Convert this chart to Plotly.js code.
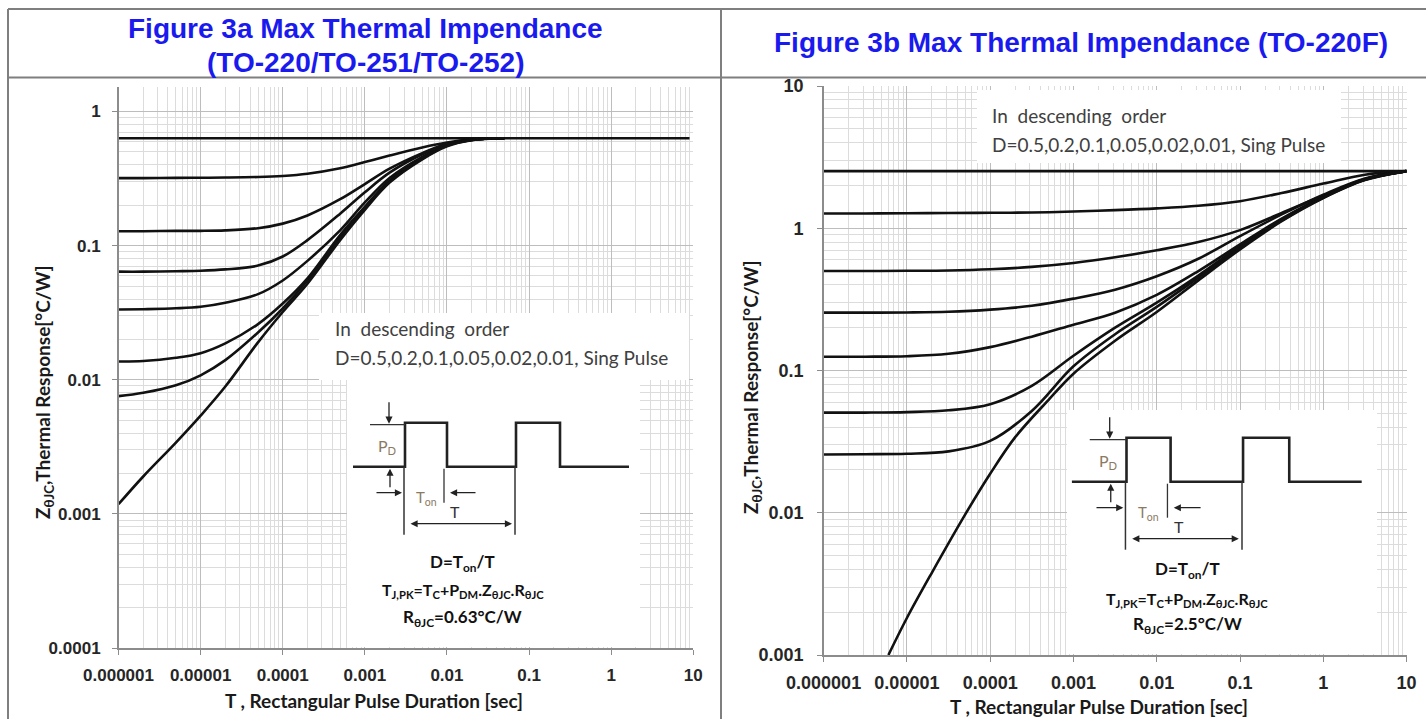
<!DOCTYPE html>
<html><head><meta charset="utf-8">
<script src="https://cdn.plot.ly/plotly-3.0.1.min.js"></script>
<style>html,body{margin:0;padding:0;background:#fff;} #chart{width:1426px;height:719px;}</style>
</head><body><div id="chart"></div>
<script>
// ---------- tick labels ----------
const xTickVals = [1e-6, 1e-5, 1e-4, 1e-3, 1e-2, 1e-1, 1, 10];
const xTickText = ['0.000001', '0.00001', '0.0001', '0.001', '0.01', '0.1', '1', '10'];
const yTickValsA = [1e-4, 1e-3, 1e-2, 1e-1, 1];
const yTickTextA = ['0.0001', '0.001', '0.01', '0.1', '1'];
const yTickValsB = [1e-3, 1e-2, 1e-1, 1, 10];
const yTickTextB = ['0.001', '0.01', '0.1', '1', '10'];

// ---------- Figure 3a (TO-220/TO-251/TO-252), R = 0.63 C/W ----------
const steadyTimeA = [1e-6, 9];
const steadyA = [0.632, 0.632];
const timeA = [1e-6, 2e-6, 5e-6, 1e-5, 2e-5, 5e-5, 1e-4, 2e-4, 5e-4, 1e-3, 2e-3, 5e-3, 1e-2, 2e-2, 5e-2];
const zA_D05  = [0.319, 0.319, 0.32, 0.321, 0.322, 0.325, 0.331, 0.344, 0.378, 0.42, 0.47, 0.54, 0.588, 0.62, 0.632];
const zA_D02  = [0.128, 0.128, 0.129, 0.129, 0.130, 0.135, 0.146, 0.168, 0.222, 0.288, 0.375, 0.49, 0.575, 0.618, 0.632];
const zA_D01  = [0.064, 0.064, 0.0645, 0.065, 0.0665, 0.071, 0.083, 0.11, 0.173, 0.25, 0.35, 0.48, 0.57, 0.616, 0.632];
const zA_D005 = [0.0334, 0.0336, 0.0341, 0.035, 0.0375, 0.0435, 0.055, 0.077, 0.13, 0.21, 0.32, 0.46, 0.565, 0.615, 0.632];
const zA_D002 = [0.0137, 0.0138, 0.0146, 0.0158, 0.0187, 0.026, 0.037, 0.057, 0.12, 0.195, 0.305, 0.45, 0.56, 0.614, 0.632];
const zA_D001 = [0.00755, 0.008, 0.0091, 0.0108, 0.014, 0.0225, 0.034, 0.055, 0.115, 0.19, 0.30, 0.445, 0.555, 0.613, 0.632];
const zA_single = [0.00118, 0.0019, 0.0034, 0.0054, 0.0089, 0.019, 0.032, 0.052, 0.11, 0.185, 0.295, 0.44, 0.55, 0.611, 0.632];

// ---------- Figure 3b (TO-220F), R = 2.5 C/W ----------
const steadyTimeB = [1e-6, 10];
const steadyB = [2.52, 2.52];
const timeB = [1e-6, 3.16e-6, 1e-5, 3.16e-5, 1e-4, 3.16e-4, 1e-3, 3.16e-3, 1e-2, 3.16e-2, 0.1, 0.316, 1, 3.16, 10];
const zB_D05  = [1.27, 1.27, 1.275, 1.28, 1.285, 1.29, 1.31, 1.34, 1.38, 1.44, 1.55, 1.77, 2.06, 2.38, 2.52];
const zB_D02  = [0.50, 0.50, 0.502, 0.505, 0.515, 0.535, 0.57, 0.625, 0.70, 0.80, 0.97, 1.28, 1.70, 2.22, 2.52];
const zB_D01  = [0.255, 0.255, 0.256, 0.259, 0.268, 0.285, 0.32, 0.37, 0.46, 0.61, 0.88, 1.25, 1.72, 2.24, 2.52];
const zB_D005 = [0.125, 0.125, 0.126, 0.131, 0.146, 0.173, 0.21, 0.255, 0.34, 0.50, 0.77, 1.17, 1.67, 2.21, 2.52];
const zB_D002 = [0.0506, 0.0506, 0.051, 0.0525, 0.058, 0.078, 0.127, 0.20, 0.30, 0.465, 0.75, 1.15, 1.65, 2.2, 2.52];
const zB_D001 = [0.0257, 0.0258, 0.026, 0.027, 0.032, 0.052, 0.107, 0.18, 0.28, 0.45, 0.73, 1.13, 1.64, 2.19, 2.52];
const singleTimeB = [6e-6, 1e-5, 2e-5, 5e-5, 1e-4, 2e-4, 5e-4, 1e-3, 3.16e-3, 1e-2, 3.16e-2, 0.1, 0.316, 1, 3.16, 10];
const zB_single = [0.001, 0.00182, 0.0038, 0.0097, 0.0188, 0.034, 0.062, 0.095, 0.162, 0.258, 0.43, 0.71, 1.12, 1.63, 2.18, 2.52];

// ---------- helpers ----------
const W = 1426, H = 719;
const px = v => v / W;
const py = v => 1 - v / H;
const ARIAL = 'Liberation Sans, Arial, sans-serif';
const CALIB = 'Lato, Carlito, Calibri, sans-serif';

function curve(x, y, xa, ya) {
  return { x: x, y: y, xaxis: xa, yaxis: ya, type: 'scatter', mode: 'lines',
    line: { color: '#111', width: 2.6, shape: 'spline', smoothing: 1.0 },
    hoverinfo: 'skip', showlegend: false };
}

const traces = [
  curve(steadyTimeA, steadyA, 'x', 'y'),
  curve(timeA, zA_D05, 'x', 'y'),
  curve(timeA, zA_D02, 'x', 'y'),
  curve(timeA, zA_D01, 'x', 'y'),
  curve(timeA, zA_D005, 'x', 'y'),
  curve(timeA, zA_D002, 'x', 'y'),
  curve(timeA, zA_D001, 'x', 'y'),
  curve(timeA, zA_single, 'x', 'y'),
  curve(steadyTimeB, steadyB, 'x2', 'y2'),
  curve(timeB, zB_D05, 'x2', 'y2'),
  curve(timeB, zB_D02, 'x2', 'y2'),
  curve(timeB, zB_D01, 'x2', 'y2'),
  curve(timeB, zB_D005, 'x2', 'y2'),
  curve(timeB, zB_D002, 'x2', 'y2'),
  curve(timeB, zB_D001, 'x2', 'y2'),
  curve(singleTimeB, zB_single, 'x2', 'y2')
];

function logAxis(domain, anchor, range, vals, text, size, standoff) {
  return {
    type: 'log', domain: domain, anchor: anchor, range: range,
    tickmode: 'array', tickvals: vals, ticktext: text,
    tickfont: { family: ARIAL, size: size, color: '#262626', weight: 'bold' },
    ticks: 'outside', ticklen: 5, tickcolor: '#8c8c8c', tickwidth: 1,
    ticklabelstandoff: standoff,
    showgrid: true, gridcolor: '#bdbdbd', gridwidth: 1,
    minor: { dtick: 'D1', showgrid: true, gridcolor: '#dcdcdc', gridwidth: 1, ticks: '' },
    showline: true, linecolor: '#8c8c8c', linewidth: 1.5,
    zeroline: false, fixedrange: true
  };
}

const shapes = [];
const annotations = [];

function hline(y, x0, x1, color, w) {
  shapes.push({ type: 'line', xref: 'paper', yref: 'paper', x0: px(x0), x1: px(x1), y0: py(y), y1: py(y),
    line: { color: color, width: w }, layer: 'above' });
}
function vline(x, y0, y1, color, w) {
  shapes.push({ type: 'line', xref: 'paper', yref: 'paper', x0: px(x), x1: px(x), y0: py(y0), y1: py(y1),
    line: { color: color, width: w }, layer: 'above' });
}
function box(x0, y0, x1, y1) {
  shapes.push({ type: 'rect', xref: 'paper', yref: 'paper', x0: px(x0), x1: px(x1), y0: py(y1), y1: py(y0),
    fillcolor: '#ffffff', line: { width: 0 }, layer: 'above' });
}
function text(t, x, y, size, color, family, weight, anchor) {
  annotations.push({ text: t, xref: 'paper', yref: 'paper', x: px(x), y: py(y), showarrow: false,
    xanchor: anchor || 'center', yanchor: 'middle',
    font: { size: size, color: color, family: family, weight: weight || 'normal' } });
}
function arrow(hx, hy, tx, ty, both) {
  annotations.push({ text: '', xref: 'paper', yref: 'paper', x: px(hx), y: py(hy),
    ax: tx - hx, ay: ty - hy, showarrow: true, arrowhead: 2, arrowsize: 1.1, arrowwidth: 1.3,
    arrowcolor: '#222', arrowside: both ? 'end+start' : 'end', startarrowhead: 2, startarrowsize: 1.1 });
}

// frame
hline(9, 8, W, '#7f7f7f', 2);
hline(77.5, 8, W, '#7f7f7f', 2);
vline(8, 9, H, '#7f7f7f', 2);
vline(721, 9, H, '#7f7f7f', 2);

// titles
const BLUE = '#1a1aef';
text('Figure 3a Max Thermal Impendance', 365, 29, 28, BLUE, ARIAL, 'bold');
text('(TO-220/TO-251/TO-252)', 365, 62, 28, BLUE, ARIAL, 'bold');
text('Figure 3b Max Thermal Impendance (TO-220F)', 1081, 43, 28, BLUE, ARIAL, 'bold');

// axis titles
const yTitle = 'Z<sub>θJC</sub>,Thermal Response[°C/W]';
const xTitle = 'T , Rectangular Pulse Duration [sec]';
annotations.push({ text: yTitle, xref: 'paper', yref: 'paper', x: px(44), y: py(392), textangle: -90,
  showarrow: false, xanchor: 'center', yanchor: 'middle', font: { family: CALIB, size: 19, color: '#1a1a1a', weight: 'bold' } });
annotations.push({ text: yTitle, xref: 'paper', yref: 'paper', x: px(752), y: py(387), textangle: -90,
  showarrow: false, xanchor: 'center', yanchor: 'middle', font: { family: CALIB, size: 19, color: '#1a1a1a', weight: 'bold' } });
text(xTitle, 374, 700, 19, '#1a1a1a', CALIB, 'bold');
text(xTitle, 1099, 706, 19, '#1a1a1a', CALIB, 'bold');

// note boxes
box(319, 313, 689, 380);
text('In  descending  order', 333, 329, 19, '#404040', CALIB, 'normal', 'left');
text('D=0.5,0.2,0.1,0.05,0.02,0.01, Sing Pulse', 333, 357, 19, '#404040', CALIB, 'normal', 'left');
box(977, 90, 1341, 163);
text('In  descending  order', 990, 116, 19, '#404040', CALIB, 'normal', 'left');
text('D=0.5,0.2,0.1,0.05,0.02,0.01, Sing Pulse', 990, 144, 19, '#404040', CALIB, 'normal', 'left');

// pulse diagram
function diagram(bx0, by0, bx1, by1, rx, by, s, ty, rText) {
  box(bx0, by0, bx1, by1);
  const X = d => rx + d * s;
  const top = by - 44;
  const pts = [[X(-52), by], [X(0), by], [X(0), top], [X(42), top], [X(42), by], [X(111), by],
               [X(111), top], [X(155), top], [X(155), by], [X(224), by]];
  const p = 'M' + pts.map(q => px(q[0]) + ',' + py(q[1])).join(' L');
  shapes.push({ type: 'path', xref: 'paper', yref: 'paper', path: p, line: { color: '#222', width: 2.6 }, layer: 'above' });
  shapes.push({ type: 'line', xref: 'paper', yref: 'paper', x0: px(X(-35)), x1: px(X(0)), y0: py(top + 2), y1: py(top + 2),
    line: { color: '#333', width: 1.3 }, layer: 'above' });
  shapes.push({ type: 'line', xref: 'paper', yref: 'paper', x0: px(X(-1)), x1: px(X(-1)), y0: py(by), y1: py(by + 68),
    line: { color: '#333', width: 1.5 }, layer: 'above' });
  shapes.push({ type: 'line', xref: 'paper', yref: 'paper', x0: px(X(39)), x1: px(X(39)), y0: py(by + 2), y1: py(by + 36),
    line: { color: '#333', width: 1.3 }, layer: 'above' });
  shapes.push({ type: 'line', xref: 'paper', yref: 'paper', x0: px(X(110)), x1: px(X(110)), y0: py(by), y1: py(by + 68),
    line: { color: '#333', width: 1.5 }, layer: 'above' });
  arrow(X(-16), top + 1, X(-16), top - 22);
  arrow(X(-15), by + 2, X(-15), by + 22);
  arrow(X(-3), by + 26, X(-30), by + 26);
  arrow(X(45), by + 26, X(72), by + 26);
  arrow(X(107), by + 57, X(4), by + 57, true);
  text('P<sub>D</sub>', X(-18), by - 20, 16, '#8a7a62', CALIB, 'normal');
  text('T<sub>on</sub>', X(21), by + 31, 15, '#8a7a62', CALIB, 'normal');
  text('T', X(50), by + 45, 16, '#333', CALIB, 'normal');
  text('D=T<sub>on</sub>/T', X(58), ty[0], 17, '#111', CALIB, 'bold');
  text('T<sub>J,PK</sub>=T<sub>C</sub>+P<sub>DM</sub>.Z<sub>θJC</sub>.R<sub>θJC</sub>', X(58), ty[1], 16, '#111', CALIB, 'bold');
  text(rText, X(58), ty[2], 17, '#111', CALIB, 'bold');
}
diagram(347, 380, 640, 647, 405, 466.7, 1.0, [563, 590, 618], 'R<sub>θJC</sub>=0.63°C/W');
diagram(1067, 410, 1377, 654, 1126.5, 481.7, 1.05, [570, 599, 625], 'R<sub>θJC</sub>=2.5°C/W');

const layout = {
  width: W, height: H, autosize: false,
  margin: { l: 0, r: 0, t: 0, b: 0, pad: 0 },
  paper_bgcolor: '#ffffff', plot_bgcolor: '#ffffff',
  showlegend: false,
  xaxis: logAxis([px(118.5), px(693.3)], 'y', [-6, 1], xTickVals, xTickText, 17, 6),
  yaxis: logAxis([py(648), py(87)], 'x', [-4, 0.183], yTickValsA, yTickTextA, 17, 8),
  xaxis2: logAxis([px(823.6), px(1406.6)], 'y2', [-6, 1], xTickVals, xTickText, 18, 6),
  yaxis2: logAxis([py(655), py(86)], 'x2', [-3, 1], yTickValsB, yTickTextB, 18, 10),
  shapes: shapes,
  annotations: annotations
};

Plotly.newPlot('chart', traces, layout, { displayModeBar: false, staticPlot: true });
</script>
</body></html>
